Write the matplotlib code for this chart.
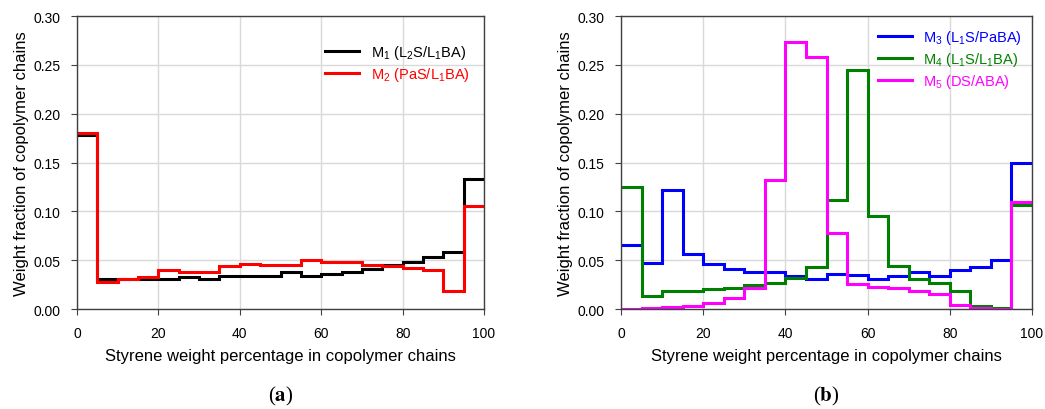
import numpy as np
import matplotlib.pyplot as plt

plt.rcParams['font.family'] = ['Liberation Sans', 'DejaVu Sans']
plt.rcParams['mathtext.fontset'] = 'custom'
plt.rcParams['mathtext.rm'] = 'Liberation Sans'
plt.rcParams['mathtext.it'] = 'Liberation Sans'

# bin edges: styrene weight percentage, 5% bins
edges = np.arange(0, 101, 5)

# panel (a)
m1 = [0.178, 0.031, 0.031, 0.031, 0.031, 0.033, 0.031, 0.034, 0.034, 0.034,
      0.038, 0.034, 0.036, 0.038, 0.041, 0.045, 0.048, 0.053, 0.058, 0.133]
m2 = [0.180, 0.028, 0.031, 0.033, 0.040, 0.038, 0.038, 0.044, 0.046, 0.045,
      0.045, 0.050, 0.048, 0.048, 0.045, 0.044, 0.042, 0.040, 0.018, 0.105]

# panel (b)
m3 = [0.066, 0.047, 0.122, 0.056, 0.046, 0.041, 0.038, 0.038, 0.034, 0.031,
      0.036, 0.035, 0.031, 0.034, 0.038, 0.034, 0.040, 0.043, 0.050, 0.149]
m4 = [0.125, 0.013, 0.018, 0.018, 0.020, 0.021, 0.025, 0.027, 0.032, 0.043,
      0.112, 0.245, 0.095, 0.044, 0.031, 0.027, 0.018, 0.003, 0.001, 0.106]
m5 = [0.000, 0.001, 0.002, 0.003, 0.006, 0.011, 0.022, 0.132, 0.273, 0.258,
      0.078, 0.026, 0.023, 0.021, 0.018, 0.015, 0.004, 0.001, 0.000, 0.110]

labels_a = [r'M$_1$ (L$_2$S/L$_1$BA)', r'M$_2$ (PaS/L$_1$BA)']
labels_b = [r'M$_3$ (L$_1$S/PaBA)', r'M$_4$ (L$_1$S/L$_1$BA)', r'M$_5$ (DS/ABA)']

fig = plt.figure(figsize=(10.45, 4.10), dpi=100)
ax1 = fig.add_axes([0.0737, 0.2439, 0.3895, 0.7146])
ax2 = fig.add_axes([0.5943, 0.2439, 0.3933, 0.7146])


def style(ax):
    ax.set_xlim(0, 100)
    ax.set_ylim(0, 0.30)
    ax.set_xticks(np.arange(0, 101, 20))
    ax.set_yticks(np.arange(0, 0.31, 0.05))
    ax.yaxis.set_major_formatter(plt.FormatStrFormatter('%.2f'))
    ax.grid(True, color='#d9d9d9', linewidth=1.0)
    ax.set_axisbelow(True)
    for s in ax.spines.values():
        s.set_color('#404040')
        s.set_linewidth(1.0)
    ax.tick_params(labelsize=10, length=4, color='#404040', pad=8)
    ax.set_xlabel('Styrene weight percentage in copolymer chains', fontsize=12, labelpad=6)
    ax.set_ylabel('Weight fraction of copolymer chains', fontsize=12, labelpad=3)


for vals, c, lab in zip([m1, m2], ['black', 'red'], labels_a):
    ax1.stairs(vals, edges, baseline=None, color=c, linewidth=2.2, label=lab)
for vals, c, lab in zip([m3, m4, m5], ['blue', 'green', 'magenta'], labels_b):
    ax2.stairs(vals, edges, baseline=None, color=c, linewidth=2.2, label=lab)

style(ax1)
style(ax2)

for ax, anchor in ((ax1, (1.0, 0.959)), (ax2, (1.012, 1.010))):
    leg = ax.legend(loc='upper right', bbox_to_anchor=anchor, frameon=False,
                    fontsize=10.5, handlelength=2.3, borderaxespad=0.6,
                    labelspacing=0.3)
    for line, text in zip(leg.get_lines(), leg.get_texts()):
        text.set_color(line.get_color())

fig.text(0.2684, 0.02, r'($\mathbf{a}$)', ha='center', fontsize=15,
         family='Liberation Serif', math_fontfamily='stix')
fig.text(0.7909, 0.02, r'($\mathbf{b}$)', ha='center', fontsize=15,
         family='Liberation Serif', math_fontfamily='stix')

fig.savefig('out.png', dpi=100)
